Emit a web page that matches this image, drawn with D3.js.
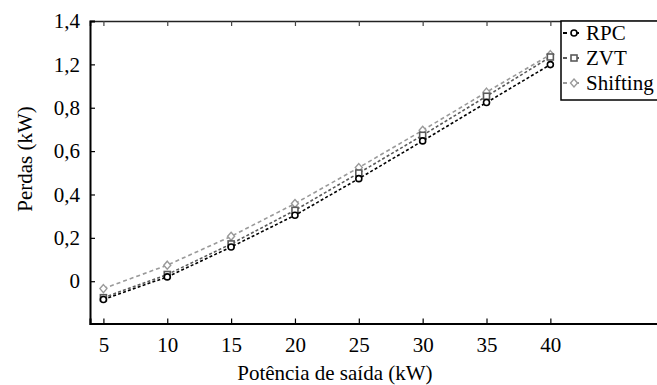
<!DOCTYPE html>
<html>
<head>
<meta charset="utf-8">
<script src="https://cdn.jsdelivr.net/npm/d3@7"></script>
<style>
  html, body { margin: 0; padding: 0; background: #fff; }
</style>
</head>
<body>
<svg id="chart" width="657" height="385"></svg>
<script>
// Output power (kW)
const potencia = [5, 10, 15, 20, 25, 30, 35, 40];
// Losses per topology, in axis units
const rpc      = [-0.084, 0.020, 0.158, 0.304, 0.473, 0.647, 0.824, 0.999];
const zvt      = [-0.076, 0.031, 0.172, 0.327, 0.499, 0.673, 0.853, 1.034];
const shifting = [-0.034, 0.074, 0.207, 0.358, 0.524, 0.696, 0.872, 1.045];

// Y tick positions and the labels printed at them
const yTickValues = [0, 0.2, 0.4, 0.6, 0.8, 1.0, 1.2];
const yTickLabels = ["0", "0,2", "0,4", "0,6", "0,8", "1,2", "1,4"];
const xTickValues = [5, 10, 15, 20, 25, 30, 35, 40];

const seriesNames = ["RPC", "ZVT", "Shifting"];

const FONT = "'Liberation Serif', 'DejaVu Serif', serif";

const svg = d3.select("#chart");
const plotLeft = 90, plotTop = 21, plotBottom = 323.5;

const x = d3.scaleLinear().domain([3.95, 50]).range([plotLeft, plotLeft + 46.05 * 12.77]);
const y = d3.scaleLinear().domain([-0.195, 1.2]).range([plotBottom, plotTop]);

const styles = {
  RPC:      { color: "#000000", dash: "3,2.2", marker: "circle" },
  ZVT:      { color: "#5a5a5a", dash: "3,2.2", marker: "square" },
  Shifting: { color: "#9a9a9a", dash: "4,3",   marker: "diamond" }
};
const values = { RPC: rpc, ZVT: zvt, Shifting: shifting };

// Axes
const xAxisBottom = d3.axisBottom(x).tickValues(xTickValues).tickSize(-5).tickPadding(14)
  .tickFormat(d3.format("d"));
const xAxisTop = d3.axisTop(x).tickValues(xTickValues).tickSize(-5).tickFormat("");
const yAxis = d3.axisLeft(y).tickValues(yTickValues).tickSize(-5).tickPadding(10)
  .tickFormat((d, i) => yTickLabels[i]);

const gx = svg.append("g").attr("transform", `translate(0,${plotBottom})`).call(xAxisBottom);
const gt = svg.append("g").attr("transform", `translate(0,${plotTop})`).call(xAxisTop);
const gy = svg.append("g").attr("transform", `translate(${plotLeft},0)`).call(yAxis);

[gx, gy].forEach(g => {
  g.attr("font-size", 21);
  g.select(".domain").attr("stroke", "#000").attr("stroke-width", 2);
  g.selectAll(".tick line").attr("stroke", "#000").attr("stroke-width", 1.2);
  g.selectAll(".tick text").attr("fill", "#000");
});
gt.select(".domain").attr("stroke", "#222").attr("stroke-width", 1.6);
gt.selectAll(".tick line").attr("stroke", "#444").attr("stroke-width", 1.2);

// Axis titles
svg.append("text")
  .attr("x", (x(5) + x(40)) / 2 + 8).attr("y", 380)
  .attr("text-anchor", "middle").attr("font-size", 21).attr("fill", "#000")
  .text("Potência de saída (kW)");
svg.append("text")
  .attr("transform", "translate(25,159) rotate(-90)")
  .attr("text-anchor", "middle").attr("dominant-baseline", "central")
  .attr("font-size", 21).attr("fill", "#000")
  .text("Perdas (kW)");

// Marker drawing
function drawMarker(g, kind, cx, cy, color) {
  if (kind === "circle") {
    g.append("circle").attr("cx", cx).attr("cy", cy).attr("r", 3)
      .attr("fill", "#fff").attr("stroke", color).attr("stroke-width", 1.6);
  } else if (kind === "square") {
    g.append("rect").attr("x", cx - 3).attr("y", cy - 3).attr("width", 6).attr("height", 6)
      .attr("fill", "#fff").attr("stroke", color).attr("stroke-width", 1.6);
  } else {
    g.append("path")
      .attr("d", `M${cx},${cy - 4}L${cx + 3.5},${cy}L${cx},${cy + 4}L${cx - 3.5},${cy}Z`)
      .attr("fill", "#fff").attr("stroke", color).attr("stroke-width", 1.4);
  }
}

const line = d3.line().x(d => x(d[0])).y(d => y(d[1]));

// Draw from the lightest series to the darkest
["Shifting", "ZVT", "RPC"].forEach(name => {
  const s = styles[name];
  const pts = potencia.map((p, i) => [p, values[name][i]]);
  const g = svg.append("g");
  g.append("path").datum(pts).attr("d", line)
    .attr("fill", "none").attr("stroke", s.color).attr("stroke-width", 1.6)
    .attr("stroke-dasharray", s.dash);
  pts.forEach(d => drawMarker(g, s.marker, x(d[0]), y(d[1]), s.color));
});

// Legend
const lg = svg.append("g");
lg.append("rect").attr("x", 561).attr("y", plotTop).attr("width", 120).attr("height", 79)
  .attr("fill", "#fff").attr("stroke", "#000").attr("stroke-width", 1.5);
seriesNames.forEach((name, i) => {
  const s = styles[name];
  const cy = 33 + i * 25;
  lg.append("line").attr("x1", 563).attr("x2", 585).attr("y1", cy).attr("y2", cy)
    .attr("stroke", s.color).attr("stroke-width", 1.8).attr("stroke-dasharray", "4,8");
  drawMarker(lg, s.marker, 574, cy, s.color);
  lg.append("text").attr("x", 586).attr("y", cy).attr("dominant-baseline", "central")
    .attr("font-size", 21).attr("fill", "#000").text(name);
});

// Serif face on every label
svg.selectAll("text").style("font-family", FONT);
</script>
</body>
</html>
